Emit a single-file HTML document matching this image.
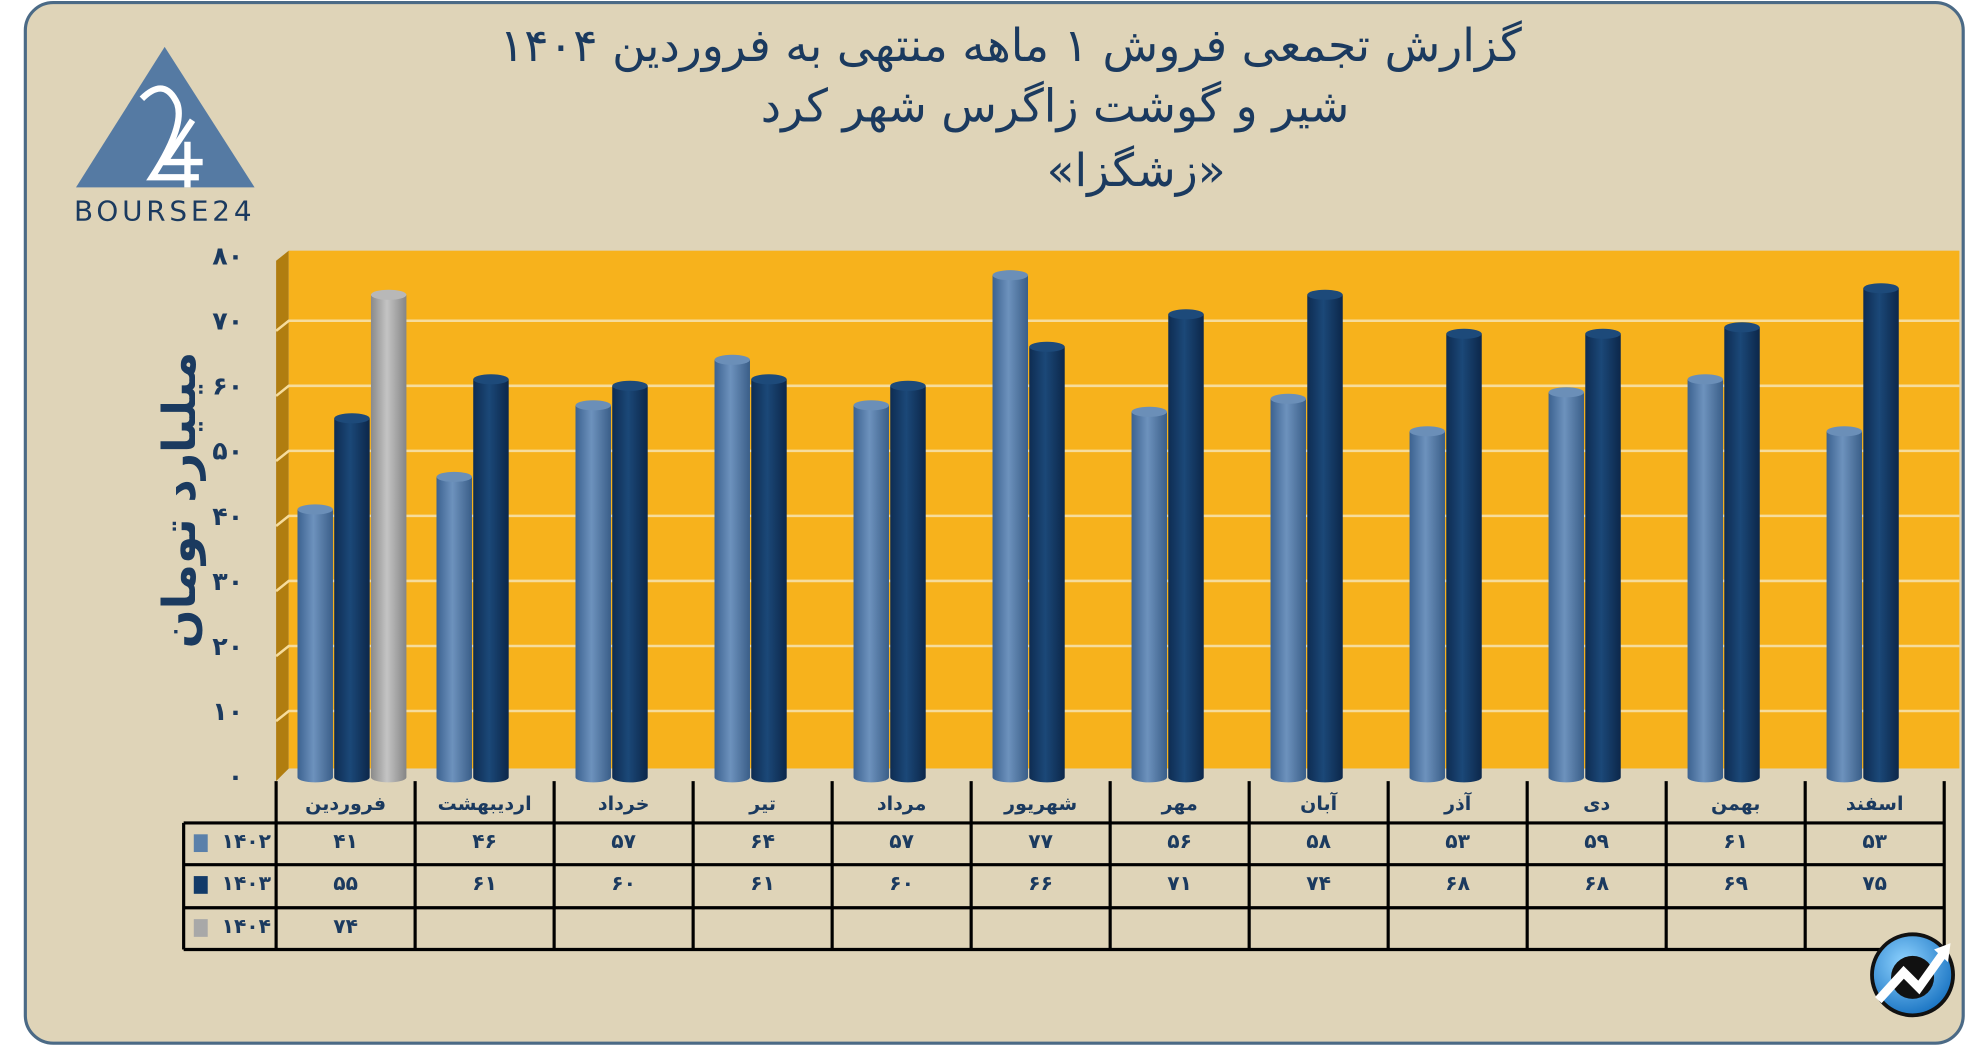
<!DOCTYPE html>
<html><head><meta charset="utf-8"><style>
html,body{margin:0;padding:0;background:#fff;}
svg{display:block;}
text{font-family:"DejaVu Sans","Liberation Sans",sans-serif;}
</style></head><body>
<svg id="chart" width="1986" height="1047" viewBox="0 0 1568 827" preserveAspectRatio="none" xmlns="http://www.w3.org/2000/svg">
<defs>
<linearGradient id="gL" x1="0" x2="1" y1="0" y2="0"><stop offset="0" stop-color="#3c6290"/><stop offset="0.45" stop-color="#6d92bd"/><stop offset="1" stop-color="#3a5e88"/></linearGradient>
<linearGradient id="gD" x1="0" x2="1" y1="0" y2="0"><stop offset="0" stop-color="#0e2c52"/><stop offset="0.45" stop-color="#1b4878"/><stop offset="1" stop-color="#0c274a"/></linearGradient>
<linearGradient id="gG" x1="0" x2="1" y1="0" y2="0"><stop offset="0" stop-color="#8a8a8a"/><stop offset="0.45" stop-color="#c4c4c4"/><stop offset="1" stop-color="#858585"/></linearGradient>
<radialGradient id="gI" cx="0.4" cy="0.35" r="0.7"><stop offset="0" stop-color="#8fd3ff"/><stop offset="1" stop-color="#1570c0"/></radialGradient>
</defs>
<rect x="20" y="2" width="1530" height="822" rx="22" fill="#dfd4b8" stroke="#4b6a86" stroke-width="2.5"/>
<g fill="#1b3a5f" font-size="36" text-anchor="middle">
<text x="798" y="48" direction="rtl">گزارش تجمعی فروش ۱ ماهه منتهی به فروردین ۱۴۰۴</text>
<text x="833" y="96" direction="rtl">شیر و گوشت زاگرس شهر کرد</text>
<text x="897" y="147" direction="rtl">«زشگزا»</text>
</g>
<g>
<polygon points="130,37 60,148 201,148" fill="#557aa3"/>
<path d="M112,78 Q130,60 140,82 Q146,100 120,140 L157,140" stroke="#fff" stroke-width="5" fill="none"/>
<path d="M152,95 L130,128 L160,128 M148,112 L148,148" stroke="#fff" stroke-width="5" fill="none"/>
<text x="130" y="174" font-size="22" fill="#1b3a5f" text-anchor="middle" letter-spacing="3">BOURSE24</text>
</g>
<polygon points="218,206 228,198 228,607 218,617" fill="#b07d10"/>
<rect x="228" y="198" width="1319" height="409" fill="#f7b21c"/>
<g id="grid"></g>
<g id="bars"></g>
<g id="yticks"></g>
<text transform="translate(154,395) rotate(-90)" font-size="36" font-weight="bold" fill="#1b3a5f" text-anchor="middle" direction="rtl">میلیارد تومان</text>
<g id="table"></g>
<g>
<circle cx="1510" cy="770" r="32" fill="url(#gI)" stroke="#111" stroke-width="3"/>
<circle cx="1510" cy="772" r="17" fill="#111"/>
<path d="M1483,790 L1503,768 L1515,780 L1535,752" stroke="#fff" stroke-width="7" fill="none"/>
<polygon points="1540,745 1527,750 1538,760" fill="#fff"/>
</g>
</svg>
<script>
const categories=["فروردین","اردیبهشت","خرداد","تیر","مرداد","شهریور","مهر","آبان","آذر","دی","بهمن","اسفند"];
const series1402=[41,46,57,64,57,77,56,58,53,59,61,53];
const series1403=[55,61,60,61,60,66,71,74,68,68,69,75];
const series1404=[74,null,null,null,null,null,null,null,null,null,null,null];
const seriesNames=["۱۴۰۲","۱۴۰۳","۱۴۰۴"];
const yTicks=[0,10,20,30,40,50,60,70,80];
const NS="http://www.w3.org/2000/svg";
const fa=n=>String(n).replace(/\d/g,d=>"۰۱۲۳۴۵۶۷۸۹"[d]);
const y0=613,yScale=v=>y0-v*(411/80);
const colL=218,colW=(1535-218)/12;
const xCenter=i=>colL+colW*(i+0.5);
function mk(tag,attrs,parent,txt){const e=document.createElementNS(NS,tag);for(const k in attrs)e.setAttribute(k,attrs[k]);if(txt!==undefined)e.textContent=txt;parent.appendChild(e);return e;}
const grid=document.getElementById('grid');
yTicks.forEach(t=>{if(t===0||t===80)return;const y=yScale(t);
const l=mk('path',{d:`M218,${y+8} L228,${y} L1547,${y}`,stroke:'#f6dc9c','stroke-width':2,fill:'none'},grid);

});
const yt=document.getElementById('yticks');
yTicks.forEach(t=>{const e=mk('text',{x:192,y:yScale(t)+7,'font-size':20,'font-weight':'bold',fill:'#1b3a5f','text-anchor':'end'},yt,fa(t));

});
const bars=document.getElementById('bars');
const allSeries=[series1402,series1403,series1404],fills=['url(#gL)','url(#gD)','url(#gG)'],caps=['#6b8fb8','#1d4a7a','#b8b8b8'];
categories.forEach((c,i)=>{allSeries.forEach((s,k)=>{const v=s[i];if(v==null)return;
const x=xCenter(i)-38+k*29,w=28,top=yScale(v),bot=y0+1;
const g=mk('g',{},bars);


mk('path',{d:`M${x},${top} L${x},${bot} A${w/2},4 0 0 0 ${x+w},${bot} L${x+w},${top} Z`,fill:fills[k]},g);
mk('ellipse',{cx:x+w/2,cy:top,rx:w/2,ry:4,fill:caps[k]},g);});});
const tb=document.getElementById('table');
const rowY=[617,650,683,717,750];
for(let i=0;i<=12;i++){const x=colL+colW*i;const l=mk('line',{x1:x,x2:x,y1:617,y2:750,stroke:'#000','stroke-width':2.5},tb);

}
[650,683,717,750].forEach(y=>{const l=mk('line',{x1:145,x2:1535,y1:y,y2:y,stroke:'#000','stroke-width':2.5},tb);

});
const lv=mk('line',{x1:145,x2:145,y1:650,y2:750,stroke:'#000','stroke-width':2.5},tb);


categories.forEach((c,i)=>{const e=mk('text',{x:xCenter(i),y:640,'font-size':15,'font-weight':'bold',fill:'#1b3a5f','text-anchor':'middle',direction:'rtl'},tb,c);


allSeries.forEach((s,k)=>{if(s[i]==null)return;const t=mk('text',{x:xCenter(i),y:rowY[k+1]+20,'font-size':16,'font-weight':'bold',fill:'#1b3a5f','text-anchor':'middle'},tb,fa(s[i]));

});});
const legC=['#5a80aa','#123a68','#a8a8a8'];
seriesNames.forEach((n,k)=>{const y=rowY[k+1];
const r=mk('rect',{x:153,y:y+9,width:11,height:14,fill:legC[k]},tb);


const t=mk('text',{x:214,y:y+20,'font-size':16,'font-weight':'bold',fill:'#1b3a5f','text-anchor':'end'},tb,n);

});
</script>
</body></html>
